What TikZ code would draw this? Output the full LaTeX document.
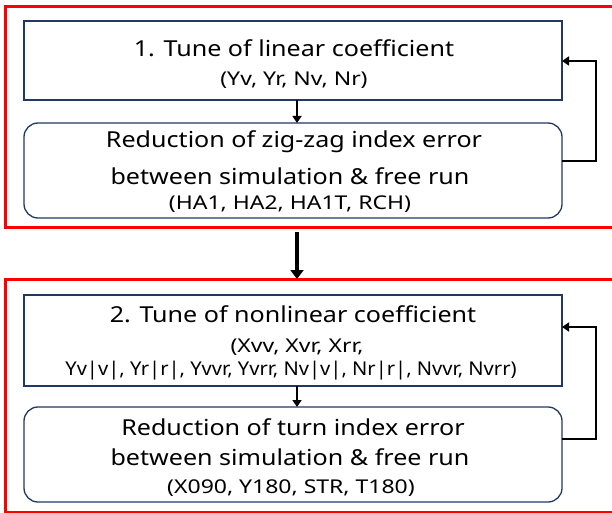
\documentclass[tikz,border=0pt]{standalone}
\usepackage{fontspec}
\setmainfont{Noto Sans}
\newfontfamily\bigfont[FakeStretch=1.14]{Noto Sans}
\newfontfamily\smallfont[FakeStretch=1.21]{Noto Sans}
\newfontfamily\longfont[FakeStretch=1.06]{Noto Sans}
\usetikzlibrary{arrows.meta}
\definecolor{navy}{HTML}{203864}
\tikzset{
  frame/.style={draw=red, line width=3pt},
  sqbox/.style={draw=navy, line width=1.3pt, fill=white},
  rdbox/.style={draw=navy, line width=1.3pt, rounded corners=14pt, fill=white},
  flow/.style={line width=2.8pt, -{Triangle[length=7pt,width=9pt]}},
  bigflow/.style={line width=4pt, -{Triangle[length=9pt,width=13pt]}},
  big/.style={font=\bigfont\fontsize{22}{24}\selectfont},
  small/.style={font=\smallfont\fontsize{19}{21}\selectfont},
  long/.style={font=\longfont\fontsize{19}{21}\selectfont},
}
\begin{document}
\begin{tikzpicture}[x=1pt,y=-1pt]
\useasboundingbox (0,0) rectangle (612,513);
% frames
\draw[frame] (5,7) rectangle (640,227);
\draw[frame] (5,279) rectangle (640,512);
% boxes
\draw[sqbox] (24,21) rectangle (562,100);
\draw[rdbox] (24,123) rectangle (562,218);
\draw[sqbox] (24,295) rectangle (562,386);
\draw[rdbox] (24,407) rectangle (562,502);
\node[big] (t1a) at (294,48) {1. Tune of linear coefficient};
\node[small] (t1b) at (294,80) {(Yv, Yr, Nv, Nr)};
\node[big] (t2a) at (294,142) {Reduction of zig-zag index error};
\node[big] (t2b) at (290,176) {between simulation \& free run};
\node[small] (t2c) at (290,204) {(HA1, HA2, HA1T, RCH)};
\node[big] (t3a) at (293,314) {2. Tune of nonlinear coefficient};
\node[small] (t3b) at (297,347) {(Xvv, Xvr, Xrr,};
\node[long] (t3c) at (291,371) {Yv|v|, Yr|r|, Yvvr, Yvrr, Nv|v|, Nr|r|, Nvvr, Nvrr)};
\node[big] (t4a) at (293,427) {Reduction of turn index error};
\node[big] (t4b) at (290,457) {between simulation \& free run};
\node[small] (t4c) at (291,488) {(X090, Y180, STR, T180)};
% named anchors
\coordinate (A1b) at (297,100);
\coordinate (A2t) at (297,123);
\coordinate (A2r) at (562,161);
\coordinate (A1r) at (562,61);
\coordinate (R1) at (596,161);
\coordinate (R1t) at (596,61);
\coordinate (F1b) at (297,232);
\coordinate (F2t) at (297,279);
\coordinate (A3b) at (297,386);
\coordinate (A4t) at (297,407);
\coordinate (A4r) at (562,439);
\coordinate (A3r) at (562,327);
\coordinate (R2) at (596,439);
\coordinate (R2t) at (596,327);
% arrows
\draw[flow] (A1b) -- (A2t);
\draw[flow] (A3b) -- (A4t);
\draw[flow] (A2r) -- (R1) -- (R1t) -- (A1r);
\draw[flow] (A4r) -- (R2) -- (R2t) -- (A3r);
\draw[bigflow] (F1b) -- (F2t);
\end{tikzpicture}
\end{document}
